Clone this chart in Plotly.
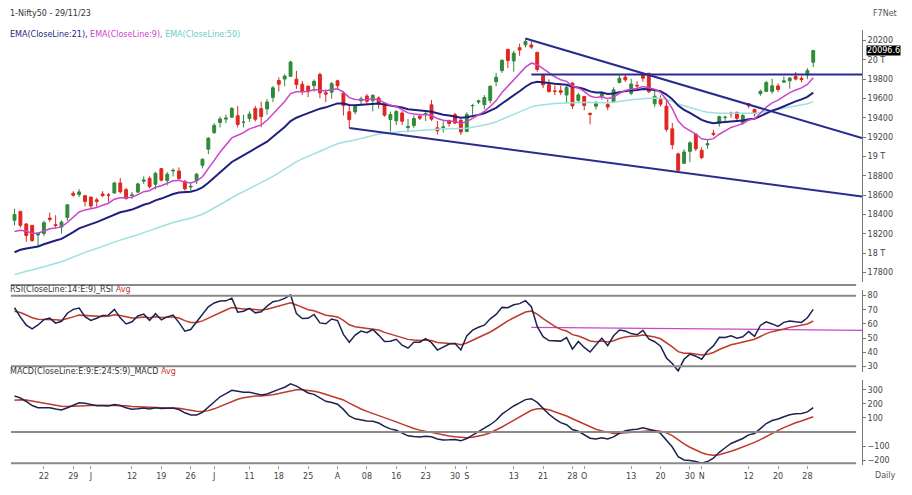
import plotly.graph_objects as go

# closes before the visible window, only used to warm up the indicators
warmup_close = [
    17616, 17610, 17854, 17764, 17721, 17871, 17893, 17856, 17770, 17711, 17929, 18015, 18035, 17944,
    17826, 17844, 17826, 17554, 17511, 17465, 17392,
    17451, 17322, 17594, 17711, 17754, 17589, 17413, 17154, 17043, 16972, 16985, 17100, 16988, 17077,
    17107, 16988, 16986, 16945, 16952, 17080, 17360,
    17398, 17557, 17599, 17624, 17722, 17812, 17828, 17812, 17660, 17706, 17618, 17624, 17624, 17744,
    17769, 17813, 17915, 18065,
    18147, 18090, 18255, 18069, 18265, 18315, 18297, 18315,
]

# visible daily bars: date, open, high, low, close
bars = [
    ("05-15", 18339, 18458, 18287, 18399), ("05-16", 18432, 18432, 18264, 18287),
    ("05-17", 18301, 18309, 18116, 18182), ("05-18", 18287, 18288, 18115, 18129),
    ("05-19", 18187, 18218, 18061, 18203), ("05-22", 18201, 18335, 18178, 18314),
    ("05-23", 18362, 18419, 18324, 18348), ("05-24", 18294, 18392, 18262, 18285),
    ("05-25", 18269, 18338, 18202, 18321), ("05-26", 18369, 18508, 18334, 18499),
    ("05-29", 18619, 18641, 18582, 18599), ("05-30", 18606, 18662, 18580, 18633),
    ("05-31", 18594, 18603, 18484, 18534), ("06-01", 18580, 18580, 18464, 18488),
    ("06-02", 18551, 18573, 18478, 18534), ("06-05", 18612, 18640, 18582, 18594),
    ("06-06", 18601, 18622, 18531, 18599), ("06-07", 18622, 18738, 18615, 18726),
    ("06-08", 18725, 18777, 18615, 18635), ("06-09", 18656, 18676, 18555, 18563),
    ("06-12", 18596, 18633, 18559, 18602), ("06-13", 18631, 18728, 18620, 18716),
    ("06-14", 18744, 18794, 18714, 18756), ("06-15", 18774, 18794, 18669, 18688),
    ("06-16", 18712, 18840, 18660, 18826), ("06-19", 18874, 18882, 18742, 18755),
    ("06-20", 18752, 18840, 18700, 18817), ("06-21", 18850, 18876, 18794, 18856),
    ("06-22", 18849, 18887, 18751, 18771), ("06-23", 18741, 18757, 18647, 18665),
    ("06-26", 18683, 18722, 18646, 18691), ("06-27", 18748, 18829, 18714, 18817),
    ("06-28", 18909, 18978, 18876, 18972), ("06-30", 19076, 19202, 19025, 19189),
    ("07-03", 19247, 19345, 19234, 19322), ("07-04", 19352, 19414, 19300, 19389),
    ("07-05", 19387, 19435, 19344, 19398), ("07-06", 19407, 19512, 19401, 19497),
    ("07-07", 19422, 19524, 19300, 19332), ("07-10", 19355, 19433, 19301, 19355),
    ("07-11", 19393, 19467, 19361, 19439), ("07-12", 19497, 19524, 19362, 19385),
    ("07-13", 19495, 19567, 19303, 19413), ("07-14", 19493, 19595, 19433, 19565),
    ("07-17", 19612, 19731, 19563, 19711), ("07-18", 19787, 19819, 19673, 19749),
    ("07-19", 19802, 19851, 19728, 19833), ("07-20", 19831, 19992, 19826, 19979),
    ("07-21", 19801, 19887, 19700, 19745), ("07-24", 19748, 19783, 19638, 19672),
    ("07-25", 19729, 19729, 19615, 19680), ("07-26", 19733, 19798, 19670, 19778),
    ("07-27", 19850, 19867, 19603, 19659), ("07-28", 19659, 19695, 19563, 19646),
    ("07-31", 19666, 19772, 19598, 19754), ("08-01", 19784, 19795, 19704, 19733),
    ("08-02", 19655, 19678, 19424, 19527), ("08-03", 19463, 19538, 19296, 19382),
    ("08-04", 19462, 19538, 19436, 19517), ("08-07", 19577, 19620, 19533, 19597),
    ("08-08", 19627, 19645, 19546, 19571), ("08-09", 19578, 19645, 19467, 19633),
    ("08-10", 19606, 19623, 19495, 19543), ("08-11", 19554, 19557, 19413, 19428),
    ("08-14", 19383, 19465, 19257, 19434), ("08-16", 19369, 19482, 19325, 19465),
    ("08-17", 19450, 19472, 19326, 19365), ("08-18", 19301, 19389, 19253, 19310),
    ("08-21", 19320, 19425, 19296, 19394), ("08-22", 19417, 19443, 19378, 19396),
    ("08-23", 19439, 19472, 19366, 19444), ("08-24", 19535, 19584, 19369, 19386),
    ("08-25", 19297, 19368, 19229, 19266), ("08-28", 19299, 19366, 19249, 19306),
    ("08-29", 19374, 19377, 19309, 19342), ("08-30", 19433, 19452, 19334, 19347),
    ("08-31", 19375, 19388, 19223, 19254), ("09-01", 19258, 19458, 19255, 19435),
    ("09-04", 19525, 19545, 19432, 19528), ("09-05", 19564, 19588, 19543, 19575),
    ("09-06", 19536, 19636, 19491, 19611), ("09-07", 19580, 19737, 19550, 19727),
    ("09-08", 19774, 19867, 19727, 19820), ("09-11", 19890, 20008, 19865, 19996),
    ("09-12", 20110, 20110, 19914, 19993), ("09-13", 19990, 20096, 19879, 20070),
    ("09-14", 20127, 20168, 20043, 20103), ("09-15", 20156, 20222, 20130, 20192),
    ("09-18", 20155, 20195, 20115, 20133), ("09-20", 20079, 20079, 19879, 19901),
    ("09-21", 19840, 19848, 19709, 19742), ("09-22", 19744, 19799, 19658, 19674),
    ("09-25", 19678, 19736, 19636, 19675), ("09-26", 19682, 19734, 19637, 19665),
    ("09-27", 19637, 19730, 19554, 19716), ("09-28", 19761, 19766, 19492, 19524),
    ("09-29", 19582, 19661, 19551, 19638), ("10-03", 19622, 19623, 19479, 19529),
    ("10-04", 19446, 19457, 19333, 19436), ("10-05", 19521, 19576, 19487, 19545),
    ("10-06", 19621, 19675, 19589, 19654), ("10-09", 19539, 19588, 19480, 19512),
    ("10-10", 19565, 19717, 19565, 19690), ("10-11", 19767, 19839, 19758, 19811),
    ("10-12", 19822, 19843, 19772, 19794), ("10-13", 19654, 19805, 19635, 19751),
    ("10-16", 19737, 19781, 19691, 19731), ("10-17", 19843, 19849, 19775, 19811),
    ("10-18", 19862, 19866, 19659, 19671), ("10-19", 19545, 19681, 19512, 19624),
    ("10-20", 19588, 19635, 19518, 19542), ("10-23", 19521, 19593, 19257, 19281),
    ("10-25", 19286, 19347, 19074, 19122), ("10-26", 19027, 19041, 18837, 18857),
    ("10-27", 18929, 19076, 18926, 19047), ("10-30", 19053, 19158, 18940, 19141),
    ("10-31", 19232, 19233, 19056, 19079), ("11-01", 19064, 19096, 18973, 18989),
    ("11-02", 19120, 19175, 19080, 19133), ("11-03", 19241, 19276, 19210, 19230),
    ("11-06", 19345, 19423, 19309, 19412), ("11-07", 19404, 19423, 19352, 19406),
    ("11-08", 19449, 19464, 19402, 19443), ("11-09", 19457, 19464, 19378, 19395),
    ("11-10", 19351, 19451, 19329, 19425), ("11-12", 19547, 19547, 19500, 19525),
    ("11-13", 19487, 19495, 19414, 19443), ("11-15", 19651, 19693, 19628, 19675),
    ("11-16", 19674, 19782, 19667, 19765), ("11-17", 19674, 19806, 19650, 19732),
    ("11-20", 19731, 19756, 19670, 19694), ("11-21", 19770, 19829, 19765, 19783),
    ("11-22", 19784, 19825, 19703, 19812), ("11-23", 19828, 19876, 19787, 19802),
    ("11-24", 19809, 19832, 19768, 19795), ("11-28", 19844, 19916, 19800, 19890),
    ("11-29", 19976, 20104, 19926, 20097),
]

tick_dates = ["05-22", "05-29", "06-01", "06-12", "06-19", "06-26", "07-03", "07-11", "07-18", "07-25",
              "08-01", "08-08", "08-16", "08-23", "08-30", "09-01", "09-13", "09-21", "09-28", "10-03",
              "10-13", "10-20", "10-30", "11-01", "11-12", "11-20", "11-28"]
tick_text = ["22", "29", "J", "12", "19", "26", "J", "11", "18", "25", "A", "08", "16", "23", "30",
             "S", "13", "21", "28", "O", "13", "20", "30", "N", "12", "20", "28"]

price_ticks = [17800, 18000, 18200, 18400, 18600, 18800, 19000, 19200, 19400, 19600, 19800, 20000, 20200]
price_tick_text = ["17800", "18 T", "18200", "18400", "18600", "18800", "19 T", "19200", "19400",
                   "19600", "19800", "20 T", "20200"]

# drawn trendlines: (start date, start value, value at right edge)
trend_upper = ("09-15", 20222, 19190)
trend_lower = ("08-03", 19296, 18585)
trend_flat = ("09-18", 19850, 19850)
rsi_flat = ("09-18", 57.5, 55.5)

dates = [b[0] for b in bars]
opens = [b[1] for b in bars]
highs = [b[2] for b in bars]
lows = [b[3] for b in bars]
closes = [b[4] for b in bars]
n = len(bars)
idx = list(range(n))
x_end = n - 1 + 8.3

# page body has an 8px margin, so the figure is drawn 8px smaller and offset
W, H, OFF = 904, 487, 8


def px(p):
    return (p - OFF) / W


def py(p):
    return 1 - (p - OFF) / H


def ema(vals, period):
    a = 2 / (period + 1)
    out = [vals[0]]
    for v in vals[1:]:
        out.append(out[-1] + a * (v - out[-1]))
    return out


def rsi(vals, period):
    ag, al = 0.0, 0.0
    out = [50.0]
    for i in range(1, len(vals)):
        d = vals[i] - vals[i - 1]
        ag += (max(d, 0) - ag) / period
        al += (max(-d, 0) - al) / period
        out.append(100 - 100 / (1 + ag / al) if al > 0 else 100)
    return out


all_close = warmup_close + closes
k = len(warmup_close)
ema9 = ema(all_close, 9)[k:]
ema21 = ema(all_close, 21)[k:]
ema50 = ema(all_close, 50)[k:]
rsi_all = rsi(all_close, 14)
rsi_avg = ema(rsi_all, 9)[k:]
rsi_v = rsi_all[k:]
macd_all = [a - b for a, b in zip(ema(all_close, 9), ema(all_close, 24))]
macd_sig = ema(macd_all, 9)[k:]
macd_v = macd_all[k:]

NAVY = "#1f1f80"
fig = go.Figure()

fig.add_trace(go.Scatter(x=idx, y=ema50, mode="lines", line=dict(color="#9fe0e0", width=1.5), yaxis="y"))
fig.add_trace(go.Scatter(x=idx, y=ema21, mode="lines", line=dict(color=NAVY, width=2), yaxis="y"))
fig.add_trace(go.Scatter(x=idx, y=ema9, mode="lines", line=dict(color="#cc44cc", width=1.5), yaxis="y"))
fig.add_trace(go.Candlestick(
    x=idx, open=opens, high=highs, low=lows, close=closes, yaxis="y",
    increasing=dict(line=dict(color="#2f8a3a", width=1), fillcolor="#2f8a3a"),
    decreasing=dict(line=dict(color="#e0261e", width=1), fillcolor="#e0261e"),
    whiskerwidth=0,
))

for d0, v0, v1 in [trend_upper, trend_lower, trend_flat]:
    fig.add_trace(go.Scatter(x=[dates.index(d0), x_end], y=[v0, v1], mode="lines",
                             line=dict(color="#2a2a90", width=2), yaxis="y"))

fig.add_trace(go.Scatter(x=[dates.index(rsi_flat[0]), x_end], y=[rsi_flat[1], rsi_flat[2]], mode="lines",
                         line=dict(color="#cc44cc", width=1.2), yaxis="y2"))
fig.add_trace(go.Scatter(x=idx, y=rsi_avg, mode="lines", line=dict(color="#c0392b", width=1.5), yaxis="y2"))
fig.add_trace(go.Scatter(x=idx, y=rsi_v, mode="lines", line=dict(color="#1c2350", width=1.5), yaxis="y2"))
fig.add_trace(go.Scatter(x=idx, y=macd_sig, mode="lines", line=dict(color="#c0392b", width=1.5), yaxis="y3"))
fig.add_trace(go.Scatter(x=idx, y=macd_v, mode="lines", line=dict(color="#1c2350", width=1.5), yaxis="y3"))

GRAY = "#8a8a8a"
for yref, val in [("y2", 80), ("y2", 30), ("y3", 0), ("y3", -222)]:
    fig.add_shape(type="line", xref="x", yref=yref, x0=-1, x1=x_end - 1, y0=val, y1=val,
                  line=dict(color=GRAY, width=2))
fig.add_shape(type="line", xref="x", yref="paper", x0=-1, x1=x_end - 1, y0=py(285), y1=py(285),
              line=dict(color=GRAY, width=2))

tick_font = dict(size=8, color="#444")
axis_common = dict(side="right", showgrid=False, zeroline=False, showline=True, linecolor="#777",
                   ticks="outside", ticklen=3, tickcolor="#777", tickfont=tick_font, anchor="x",
                   automargin=False)

fig.update_layout(
    width=W, height=H,
    margin=dict(l=0, r=0, t=0, b=0, autoexpand=False),
    paper_bgcolor="white", plot_bgcolor="white",
    font=dict(family="DejaVu Sans", size=8, color="#333"),
    showlegend=False,
    xaxis=dict(domain=[px(11), px(862)], range=[-0.6, x_end], showgrid=False, zeroline=False,
               rangeslider=dict(visible=False),
               tickvals=[dates.index(d) for d in tick_dates], ticktext=tick_text, tickfont=tick_font,
               ticks="outside", ticklen=3, tickcolor="#999", anchor="y3", showline=False, automargin=False),
    yaxis=dict(domain=[py(282), py(30)], range=[17700, 20310],
               tickvals=price_ticks, ticktext=price_tick_text, **axis_common),
    yaxis2=dict(domain=[py(372), py(290)], range=[26, 84],
                tickvals=[30, 40, 50, 60, 70, 80], **axis_common),
    yaxis3=dict(domain=[py(465), py(380)], range=[-235, 370],
                tickvals=[-200, -100, 100, 200, 300], **axis_common),
)

notes = [
    (8, 14, "1-Nifty50 - 29/11/23", "#333"),
    (885, 14, "F7Net", "#555"),
    (885, 475, "Daily", "#555"),
]
for x0, y0, txt, col in notes:
    fig.add_annotation(x=px(x0), y=py(y0), xref="paper", yref="paper", text=txt, showarrow=False,
                       xanchor="left" if x0 < 100 else "center", yanchor="middle", font=dict(size=8, color=col))

fig.add_annotation(x=px(8), y=py(28), xref="paper", yref="paper", showarrow=False, xanchor="left",
                   text="<span style='color:#1f1f80'>EMA(CloseLine:21),</span> "
                        "<span style='color:#cc44cc'>EMA(CloseLine:9),</span> "
                        "<span style='color:#66cccc'>EMA(CloseLine:50)</span>", font=dict(size=8))
fig.add_annotation(x=px(8), y=py(289), xref="paper", yref="paper", showarrow=False, xanchor="left",
                   text="RSI(CloseLine:14:E:9)_RSI <span style='color:#c0392b'>Avg</span>", font=dict(size=8))
fig.add_annotation(x=px(8), y=py(378), xref="paper", yref="paper", showarrow=False, xanchor="left",
                   text="MACD(CloseLine:E:9:E:24:S:9)_MACD <span style='color:#c0392b'>Avg</span>",
                   font=dict(size=8))
fig.add_annotation(x=px(866), y=closes[-1], xref="paper", yref="y", showarrow=False, xanchor="left",
                   text="20096.6", bgcolor="black", font=dict(size=8, color="white"), borderpad=0)

fig.write_html("out.html")
